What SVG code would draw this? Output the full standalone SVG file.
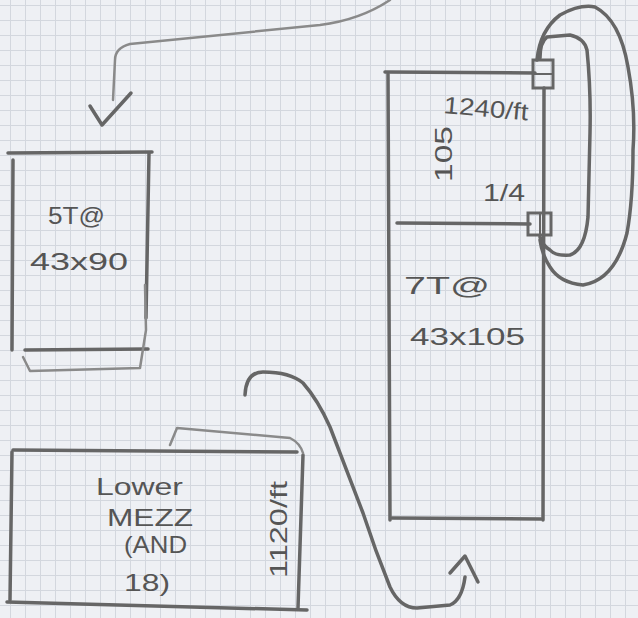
<svg xmlns="http://www.w3.org/2000/svg" width="638" height="618" viewBox="0 0 638 618">
<defs>
<pattern id="grid" width="15" height="15" patternUnits="userSpaceOnUse" x="10" y="5">
<rect width="15" height="15" fill="#eef0f4"/>
<path d="M0 0.5H15M0.5 0V15" stroke="#d3d7de" stroke-width="1" fill="none"/>
</pattern>
</defs>
<style>
.p{fill:none;stroke:#666;stroke-width:3.5;stroke-linecap:round;stroke-linejoin:round}
.pl{fill:none;stroke:#8a8a8a;stroke-width:2.5;stroke-linecap:round;stroke-linejoin:round}
.t{font-family:"Liberation Sans","DejaVu Sans",sans-serif;fill:#555;font-size:24px}
</style>
<rect width="638" height="618" fill="url(#grid)"/>

<g id="node-5T">
<path class="p" d="M8 153 L152 152"/>
<path class="p" d="M13 160 L12 350"/>
<path class="p" d="M149 153 L146 318"/>
<path class="p" d="M25 350 L148 349"/>
<path class="pl" d="M23 357 L30 371 L140 368 L146 330 L145 285"/>
<text class="t" x="48" y="224" font-size="30" textLength="57" lengthAdjust="spacingAndGlyphs" fill="#6e6e6e">5T@</text>
<text class="t" x="30" y="270" font-size="32" textLength="98" lengthAdjust="spacingAndGlyphs">43x90</text>
</g>

<g id="node-7T">
<path class="p" d="M385 72 L535 73"/>
<path class="p" d="M388 74 L390 520"/>
<path class="p" d="M544 88 L543 520"/>
<path class="p" d="M397 223 L530 224"/>
<path class="p" d="M392 518 L541 519"/>
<rect x="533" y="60" width="20" height="28" fill="none" stroke="#666" stroke-width="3"/>
<path d="M533 74 L553 74" stroke="#666" stroke-width="2" fill="none"/>
<rect x="528" y="213" width="23" height="22" fill="none" stroke="#666" stroke-width="3"/>
<path d="M540 213 L540 235" stroke="#666" stroke-width="2" fill="none"/>
<text class="t" x="443" y="113" font-size="26" textLength="85" lengthAdjust="spacingAndGlyphs" transform="rotate(5 443 113)">1240/ft</text>
<text class="t" x="452" y="182" font-size="32" textLength="56" lengthAdjust="spacingAndGlyphs" transform="rotate(-90 452 182)">105</text>
<text class="t" x="483" y="201" font-size="46" textLength="42" lengthAdjust="spacingAndGlyphs">1/4</text>
<text class="t" x="404" y="294" font-size="40" textLength="86" lengthAdjust="spacingAndGlyphs">7T@</text>
<text class="t" x="410" y="345" font-size="32" textLength="115" lengthAdjust="spacingAndGlyphs">43x105</text>
</g>

<g id="node-lower-mezz">
<path class="p" d="M13 450 L297 452"/>
<path class="p" d="M12 452 L10 600"/>
<path class="p" d="M7 602 L307 610"/>
<path class="p" d="M303 455 L298 608"/>
<path class="pl" d="M170 445 L177 428 L290 438 Q300 443 303 453"/>
<text class="t" x="96" y="495" font-size="30" textLength="87" lengthAdjust="spacingAndGlyphs">Lower</text>
<text class="t" x="107" y="526" font-size="26" textLength="86" lengthAdjust="spacingAndGlyphs">MEZZ</text>
<text class="t" x="124" y="553" font-size="22" textLength="63" lengthAdjust="spacingAndGlyphs">(AND</text>
<text class="t" x="124" y="591" font-size="38" textLength="46" lengthAdjust="spacingAndGlyphs">18)</text>
<text class="t" x="287" y="578" font-size="30" textLength="97" lengthAdjust="spacingAndGlyphs" transform="rotate(-90 287 578)">1120/ft</text>
</g>

<g id="connectors">
<path class="pl" d="M390 0 Q360 20 320 25 L130 44 Q115 48 115 60 L113 100"/>
<path class="p" d="M90 106 L102 125 L131 93" stroke="#777"/>
<path class="p" d="M245 395 Q246 372 263 372 Q290 372 303 383 Q318 400 330 427 L363 513 Q375 550 390 587 Q400 608 417 608 L450 605 Q462 600 465 577"/>
<path class="p" d="M450 573 L465 556 L478 582"/>
<path class="p" d="M537 60 Q540 30 560 15 Q580 4 595 7 Q620 20 628 67 Q636 110 633 150 Q633 200 627 233 Q615 280 583 285 Q560 283 550 267 Q542 255 540 240"/>
<path class="p" d="M540 58 Q540 42 547 37 L570 35 Q584 38 587 50 Q591 90 590 133 L588 217 Q585 250 570 255 Q555 256 550 250 Q542 245 540 237"/>
</g>
</svg>
